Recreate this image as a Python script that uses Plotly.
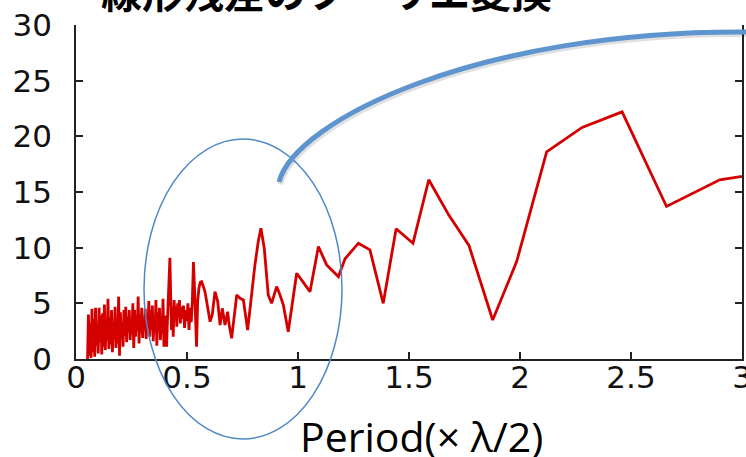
import plotly.graph_objects as go

# ---- data ----
dense_x = [0.052, 0.056, 0.060, 0.064, 0.068, 0.072, 0.076, 0.080, 0.084, 0.088,
           0.092, 0.096, 0.100, 0.104, 0.108, 0.112, 0.116, 0.120, 0.124, 0.128,
           0.132, 0.136, 0.140, 0.144, 0.148, 0.152, 0.156, 0.160, 0.164, 0.168,
           0.172, 0.176, 0.180, 0.184, 0.188, 0.192, 0.196, 0.200, 0.204, 0.208,
           0.212, 0.216, 0.220, 0.224, 0.228, 0.232, 0.236, 0.240, 0.244, 0.248,
           0.252, 0.256, 0.260, 0.264, 0.268, 0.272, 0.276, 0.280, 0.284, 0.288,
           0.292, 0.296, 0.300, 0.304, 0.308, 0.312, 0.316, 0.320, 0.324, 0.328,
           0.332, 0.336, 0.340, 0.344, 0.348, 0.352, 0.356, 0.360, 0.364, 0.368,
           0.372, 0.376, 0.380, 0.384, 0.388, 0.392, 0.396, 0.400, 0.404, 0.408,
           0.412]
dense_y = [0.0, 4.0, 0.3, 3.2, 0.1, 4.5, 0.6, 3.6, 0.2, 4.6,
           1.2, 3.0, 0.5, 4.6, 1.5, 3.9, 0.4, 4.1, 1.1, 4.9,
           0.8, 3.4, 1.6, 5.4, 0.9, 3.7, 1.3, 4.4, 0.6, 2.9,
           1.8, 4.7, 1.0, 3.6, 1.4, 5.6, 0.3, 4.2, 1.9, 3.3,
           1.1, 4.4, 2.1, 4.7, 1.5, 3.8, 2.4, 4.4, 1.7, 3.5,
           2.2, 5.0, 1.0, 4.4, 2.0, 3.9, 2.5, 5.6, 1.4, 4.0,
           2.3, 4.6, 1.9, 3.6, 2.6, 4.5, 1.8, 3.9, 2.8, 5.2,
           2.0, 4.4, 2.6, 4.8, 1.6, 3.6, 2.4, 5.3, 1.2, 4.2,
           2.6, 4.6, 1.7, 3.4, 2.3, 5.4, 1.1, 3.9, 3.0, 1.1,
           3.5]

mid_x = [0.417, 0.420, 0.423, 0.426, 0.430, 0.434, 0.438, 0.442, 0.446, 0.450,
         0.454, 0.458, 0.462, 0.466, 0.470, 0.474, 0.479, 0.484, 0.489, 0.494,
         0.499, 0.504, 0.509, 0.514, 0.519, 0.524, 0.529, 0.533, 0.538, 0.543,
         0.548, 0.554, 0.560]
mid_y = [5.9, 7.5, 9.1, 6.2, 2.6, 4.7, 2.0, 5.3, 3.5, 4.7,
         2.9, 5.0, 3.8, 5.3, 3.2, 4.7, 3.6, 4.8, 2.8, 4.4,
         3.4, 5.0, 2.6, 4.6, 3.3, 5.2, 8.7, 6.8, 4.0, 1.1,
         5.2, 6.4, 6.9]

coarse_x = [0.566, 0.581, 0.596, 0.604, 0.614, 0.626, 0.638, 0.649, 0.659, 0.671,
            0.683, 0.690, 0.701, 0.714, 0.724, 0.739, 0.754, 0.773, 0.791, 0.806,
            0.821, 0.833, 0.848, 0.859, 0.866, 0.881, 0.904, 0.919, 0.934, 0.956,
            0.994, 1.054, 1.092, 1.129, 1.182, 1.212, 1.272, 1.324, 1.384, 1.442,
            1.518, 1.589, 1.680, 1.770, 1.877, 1.985, 2.120, 2.280, 2.460, 2.660,
            2.900, 3.190]
coarse_y = [6.95, 6.05, 4.25, 3.35, 4.0, 6.05, 5.2, 3.05, 4.55, 3.05,
            4.25, 3.05, 1.86, 4.0, 5.75, 5.45, 5.3, 2.6, 6.05, 8.45,
            10.55, 11.75, 9.95, 6.95, 5.75, 5.0, 6.5, 5.75, 4.85, 2.45,
            7.7, 6.05, 10.1, 8.45, 7.4, 9.0, 10.4, 9.8, 5.0, 11.7,
            10.4, 16.1, 12.9, 10.2, 3.5, 8.75, 18.6, 20.8, 22.2, 13.7,
            16.1, 17.0]

x_ticks = [0, 0.5, 1, 1.5, 2, 2.5, 3]
x_tick_labels = ["0", "0.5", "1", "1.5", "2", "2.5", "3"]
y_ticks = [0, 5, 10, 15, 20, 25, 30]

title_text = "線形残差のフーリエ変換"
xlabel_text = "Period(× λ/2)"

# ---- layout geometry ----
W, H = 746, 457
L, R, T, B = 76, 4, 25, 98
PW, PH = W - L - R, H - T - B


def px(xp, yp):
    return (xp - L) / PW, (H - B - yp) / PH


xs = dense_x + mid_x + coarse_x
ys = dense_y + mid_y + coarse_y

fig = go.Figure()
fig.add_trace(go.Scatter(x=xs, y=ys, mode="lines",
                         line=dict(color="#d40000", width=2.8),
                         hoverinfo="skip", showlegend=False))

tickfont = dict(family="DejaVu Sans", size=31, color="#111111")
fig.update_xaxes(range=[0, 3], tickvals=x_ticks, ticktext=x_tick_labels,
                 ticks="inside", ticklen=7, tickwidth=1.5, tickcolor="#222",
                 showline=True, linecolor="#222", linewidth=1.5, mirror=False,
                 showgrid=False, zeroline=False, tickfont=tickfont,
                 ticklabelstandoff=-10, ticklabeloverflow="allow", automargin=False)
fig.update_yaxes(range=[0, 30], tickvals=y_ticks,
                 ticks="inside", ticklen=7, tickwidth=1.5, tickcolor="#222",
                 showline=True, linecolor="#222", linewidth=1.5, mirror="ticks",
                 showgrid=False, zeroline=False, tickfont=tickfont,
                 ticklabelstandoff=16, ticklabeloverflow="allow", automargin=False)

# ellipse annotation
ex0, ey0 = px(144, 439)
ex1, ey1 = px(342, 139)
shapes = [dict(type="circle", xref="paper", yref="paper",
               x0=ex0, y0=ey0, x1=ex1, y1=ey1,
               line=dict(color="#4f88c8", width=1.5), layer="above")]


def curve(dx=0, dy=0):
    pts = [(279, 182), (295, 120), (480, 30), (748, 32)]
    p = [px(a + dx, b + dy) for a, b in pts]
    return "M {},{} C {},{} {},{} {},{}".format(p[0][0], p[0][1], p[1][0], p[1][1],
                                               p[2][0], p[2][1], p[3][0], p[3][1])


shapes.append(dict(type="path", xref="paper", yref="paper", path=curve(1.5, 2.5),
                   line=dict(color="rgba(0,0,0,0.12)", width=5), layer="above"))
shapes.append(dict(type="path", xref="paper", yref="paper", path=curve(),
                   line=dict(color="#5f95cf", width=5), layer="above"))

tx, ty = px(326, -10)
lx, ly = px(422, 436)
annotations = [
    dict(text="<b>" + title_text + "</b>", xref="paper", yref="paper", x=tx, y=ty,
         xanchor="center", yanchor="middle", showarrow=False,
         font=dict(family="Noto Sans CJK JP", size=41, color="#000000")),
    dict(text=xlabel_text, xref="paper", yref="paper", x=lx, y=ly,
         xanchor="center", yanchor="middle", showarrow=False,
         font=dict(family="Open Sans", size=41, color="#000000")),
]

fig.update_layout(width=W, height=H, margin=dict(l=L, r=R, t=T, b=B, pad=0, autoexpand=False),
                  paper_bgcolor="white", plot_bgcolor="white",
                  shapes=shapes, annotations=annotations, showlegend=False)

fig.write_html("out.html", config={"displayModeBar": False},
               post_script="document.body.style.margin='0';document.body.style.overflow='hidden';")
